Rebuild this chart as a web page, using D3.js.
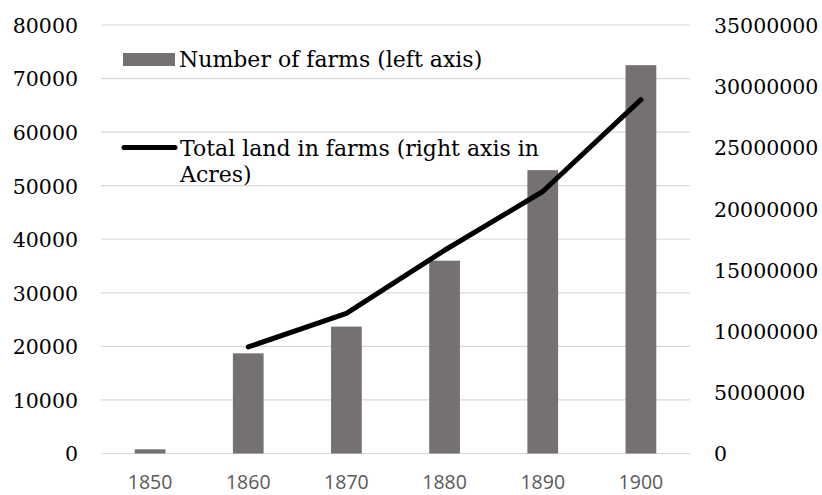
<!DOCTYPE html>
<html>
<head>
<meta charset="utf-8">
<script src="https://cdn.jsdelivr.net/npm/d3@7"></script>
<style>
  html, body { margin: 0; padding: 0; background: #ffffff; }
  svg { display: block; }
</style>
</head>
<body>
<svg id="chart" width="822" height="495"></svg>
<script>
// ---- data ----
const years = ["1850", "1860", "1870", "1880", "1890", "1900"];
const farms = [780, 18700, 23700, 36000, 52900, 72500];
const landAcres = [null, 8700000, 11450000, 16600000, 21400000, 28900000];
const leftTicks = [0, 10000, 20000, 30000, 40000, 50000, 60000, 70000, 80000];
const rightTicks = [0, 5000000, 10000000, 15000000, 20000000, 25000000, 30000000, 35000000];
const seriesNames = ["Number of farms (left axis)", "Total land in farms (right axis in", "Acres)"];

// ---- layout ----
const W = 822, H = 495;
const plot = { left: 101, right: 690, top: 25, bottom: 453.5 };
const serif = "'DejaVu Serif', 'Liberation Serif', serif";
const sans = "'Open Sans', 'Liberation Sans', sans-serif";

const svg = d3.select("#chart");

const x = d3.scaleBand().domain(years).range([plot.left, plot.right]).paddingInner(0).paddingOuter(0);
const yL = d3.scaleLinear().domain([0, 80000]).range([plot.bottom, plot.top]);
const yR = d3.scaleLinear().domain([0, 35000000]).range([plot.bottom, plot.top]);

// gridlines
svg.append("g").selectAll("line").data(leftTicks).join("line")
  .attr("x1", plot.left).attr("x2", plot.right)
  .attr("y1", d => yL(d)).attr("y2", d => yL(d))
  .attr("stroke", "#d9d9d9").attr("stroke-width", 1.2);

// left axis
const axL = d3.axisLeft(yL).tickValues(leftTicks).tickSize(0).tickPadding(0).tickFormat(d3.format("d"));
const gL = svg.append("g").attr("transform", `translate(78,0)`).call(axL);
gL.select(".domain").remove();
gL.selectAll("text").attr("font-family", serif).attr("font-size", 20.5).attr("fill", "#000").attr("dy", "0.36em");

// right axis
const axR = d3.axisRight(yR).tickValues(rightTicks).tickSize(0).tickPadding(0).tickFormat(d3.format("d"));
const gR = svg.append("g").attr("transform", `translate(714,0)`).call(axR);
gR.select(".domain").remove();
gR.selectAll("text").attr("font-family", serif).attr("font-size", 20.5).attr("fill", "#000").attr("dy", "0.36em");

// bottom axis
const axB = d3.axisBottom(x).tickSize(0).tickPadding(0);
const gB = svg.append("g").attr("transform", `translate(0,${plot.bottom})`).call(axB);
gB.select(".domain").remove();
gB.selectAll("text").attr("font-family", sans).attr("font-size", 19.5).attr("fill", "#595959").attr("dy", "1.84em");

// bars
const barW = x.bandwidth() * 0.313;
svg.append("g").selectAll("rect").data(years.map((y, i) => ({ y, v: farms[i] }))).join("rect")
  .attr("x", d => x(d.y) + x.bandwidth() / 2 - barW / 2)
  .attr("width", barW)
  .attr("y", d => yL(d.v))
  .attr("height", d => yL(0) - yL(d.v))
  .attr("fill", "#767171");

// line
const lineData = years.map((y, i) => ({ y, v: landAcres[i] })).filter(d => d.v != null);
const line = d3.line().x(d => x(d.y) + x.bandwidth() / 2).y(d => yR(d.v));
svg.append("path").datum(lineData).attr("d", line)
  .attr("fill", "none").attr("stroke", "#000").attr("stroke-width", 5)
  .attr("stroke-linecap", "round").attr("stroke-linejoin", "round");

// legend
const lg = svg.append("g");
const legendFont = 22;
lg.append("rect").attr("x", 123).attr("y", 53).attr("width", 52).attr("height", 13).attr("fill", "#767171");
lg.append("text").attr("x", 179).attr("y", 66.5).text(seriesNames[0])
  .attr("font-family", serif).attr("font-size", legendFont).attr("fill", "#000");
lg.append("line").attr("x1", 124).attr("x2", 175).attr("y1", 147.5).attr("y2", 147.5)
  .attr("stroke", "#000").attr("stroke-width", 5).attr("stroke-linecap", "round");
lg.append("text").attr("x", 180).attr("y", 155.5).text(seriesNames[1])
  .attr("font-family", serif).attr("font-size", legendFont).attr("fill", "#000");
lg.append("text").attr("x", 180).attr("y", 181.5).text(seriesNames[2])
  .attr("font-family", serif).attr("font-size", legendFont).attr("fill", "#000");
</script>
</body>
</html>
